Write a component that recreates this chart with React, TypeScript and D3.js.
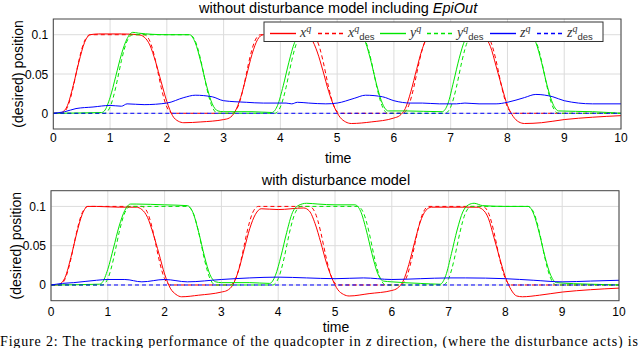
import React from 'react'
import { scaleLinear, line, curveMonotoneX } from 'd3'

type Pt = [number, number]

const xTicks = [0, 1, 2, 3, 4, 5, 6, 7, 8, 9, 10]
const yTicks = [0, 0.05, 0.1]
const yTickLabels = ['0', '0.05', '0.1']

// desired trajectories (same in both panels)
const xDes: Pt[] = [
    [0, 0], [0.15, 0], [0.25, 0.008], [0.35, 0.033], [0.4, 0.05], [0.45, 0.067], [0.55, 0.092], [0.65, 0.1],
    [1.6, 0.1], [1.7, 0.092], [1.8, 0.067], [1.85, 0.05], [1.9, 0.033], [2.0, 0.008], [2.1, 0],
    [3.15, 0], [3.25, 0.008], [3.35, 0.033], [3.4, 0.05], [3.45, 0.067], [3.55, 0.092], [3.65, 0.1],
    [4.55, 0.1], [4.65, 0.092], [4.75, 0.067], [4.8, 0.05], [4.85, 0.033], [4.95, 0.008], [5.05, 0],
    [6.15, 0], [6.25, 0.008], [6.35, 0.033], [6.4, 0.05], [6.45, 0.067], [6.55, 0.092], [6.65, 0.1],
    [7.6, 0.1], [7.7, 0.092], [7.8, 0.067], [7.85, 0.05], [7.9, 0.033], [8.0, 0.008], [8.1, 0],
    [10, 0],
]
const yDes: Pt[] = [
    [0, 0], [0.9, 0], [1.0, 0.008], [1.1, 0.033], [1.15, 0.05], [1.2, 0.067], [1.3, 0.092], [1.4, 0.1],
    [2.4, 0.1], [2.5, 0.092], [2.6, 0.067], [2.65, 0.05], [2.7, 0.033], [2.8, 0.008], [2.9, 0],
    [3.9, 0], [4.0, 0.008], [4.1, 0.033], [4.15, 0.05], [4.2, 0.067], [4.3, 0.092], [4.4, 0.1],
    [5.4, 0.1], [5.5, 0.092], [5.6, 0.067], [5.65, 0.05], [5.7, 0.033], [5.8, 0.008], [5.9, 0],
    [6.9, 0], [7.0, 0.008], [7.1, 0.033], [7.15, 0.05], [7.2, 0.067], [7.3, 0.092], [7.4, 0.1],
    [8.4, 0.1], [8.5, 0.092], [8.6, 0.067], [8.65, 0.05], [8.7, 0.033], [8.8, 0.008], [8.9, 0],
    [10, 0],
]
const zDes: Pt[] = [[0, 0], [10, 0]]

// top panel: without disturbance model
const xTop: Pt[] = [
    [0, 0], [0.1, 0], [0.15, 0.001], [0.25, 0.01], [0.35, 0.035], [0.45, 0.065], [0.55, 0.09], [0.65, 0.1],
    [0.8, 0.101], [1.2, 0.101], [1.5, 0.1], [1.6, 0.097], [1.7, 0.087], [1.8, 0.066], [1.9, 0.04], [2.0, 0.015],
    [2.1, -0.003], [2.2, -0.01], [2.3, -0.012], [2.6, -0.011], [3.0, -0.008], [3.1, -0.006], [3.2, 0.002],
    [3.3, 0.02], [3.4, 0.047], [3.5, 0.075], [3.6, 0.094], [3.7, 0.1], [4.0, 0.1], [4.45, 0.099], [4.55, 0.094],
    [4.65, 0.078], [4.75, 0.054], [4.85, 0.028], [4.95, 0.008], [5.05, -0.005], [5.15, -0.011], [5.25, -0.013],
    [5.6, -0.011], [6.0, -0.006], [6.1, -0.003], [6.2, 0.006], [6.3, 0.028], [6.4, 0.056], [6.5, 0.082],
    [6.6, 0.097], [6.7, 0.1], [7.0, 0.1], [7.5, 0.1], [7.6, 0.097], [7.7, 0.085], [7.8, 0.06], [7.9, 0.034],
    [8.0, 0.01], [8.1, -0.004], [8.2, -0.011], [8.3, -0.013], [8.6, -0.012], [9.0, -0.008], [9.5, -0.005], [10, -0.003],
]
const yTop: Pt[] = [
    [0, 0], [0.85, 0.001], [0.9, 0.003], [1.0, 0.02], [1.1, 0.047], [1.2, 0.075], [1.3, 0.095], [1.4, 0.103],
    [1.5, 0.102], [2.0, 0.1], [2.4, 0.1], [2.5, 0.09], [2.6, 0.065], [2.7, 0.035], [2.8, 0.012], [2.9, 0.003],
    [3.0, 0.002], [3.5, 0.002], [3.85, 0.001], [3.95, 0.01], [4.05, 0.035], [4.15, 0.065], [4.25, 0.09],
    [4.35, 0.1], [4.45, 0.102], [4.6, 0.101], [5.0, 0.1], [5.4, 0.1], [5.5, 0.09], [5.6, 0.065], [5.7, 0.035],
    [5.8, 0.012], [5.9, 0.003], [6.2, 0.003], [6.85, 0.002], [6.95, 0.012], [7.05, 0.04], [7.15, 0.07],
    [7.25, 0.093], [7.35, 0.101], [7.5, 0.102], [8.0, 0.1], [8.4, 0.1], [8.5, 0.09], [8.6, 0.065], [8.7, 0.035],
    [8.8, 0.012], [8.9, 0.003], [9.5, 0.002], [10, 0.0],
]
const zTop: Pt[] = [
    [0, 0], [0.2, 0.002], [0.4, 0.006], [0.7, 0.008], [1.0, 0.01], [1.2, 0.009], [1.3, 0.012], [1.6, 0.011],
    [2.0, 0.013], [2.3, 0.02], [2.5, 0.023], [2.8, 0.021], [3.0, 0.016], [3.4, 0.014], [3.7, 0.013],
    [4.1, 0.013], [4.2, 0.012], [4.3, 0.014], [4.5, 0.013], [4.8, 0.012], [5.0, 0.013], [5.3, 0.019],
    [5.5, 0.023], [5.8, 0.021], [6.0, 0.016], [6.3, 0.013], [6.5, 0.013], [6.8, 0.012], [7.1, 0.012],
    [7.25, 0.013], [7.5, 0.012], [7.8, 0.012], [8.0, 0.014], [8.3, 0.02], [8.5, 0.024], [8.8, 0.021],
    [9.0, 0.016], [9.5, 0.012], [10, 0.012],
]

// bottom panel: with disturbance model
const xBot: Pt[] = [
    [0, 0], [0.1, 0], [0.15, 0.001], [0.25, 0.01], [0.35, 0.035], [0.45, 0.065], [0.55, 0.09], [0.65, 0.1],
    [0.8, 0.1], [1.2, 0.099], [1.5, 0.099], [1.6, 0.096], [1.7, 0.086], [1.8, 0.065], [1.9, 0.04], [2.0, 0.014],
    [2.1, -0.004], [2.2, -0.012], [2.3, -0.015], [2.6, -0.013], [3.0, -0.009], [3.1, -0.007], [3.2, 0.0],
    [3.3, 0.018], [3.4, 0.045], [3.5, 0.072], [3.6, 0.09], [3.7, 0.097], [4.0, 0.096], [4.45, 0.098],
    [4.55, 0.094], [4.65, 0.078], [4.75, 0.054], [4.85, 0.028], [4.95, 0.008], [5.05, -0.006], [5.15, -0.012],
    [5.25, -0.014], [5.6, -0.011], [6.0, -0.007], [6.1, -0.004], [6.2, 0.005], [6.3, 0.026], [6.4, 0.054],
    [6.5, 0.08], [6.6, 0.095], [6.7, 0.099], [7.0, 0.099], [7.5, 0.099], [7.6, 0.096], [7.7, 0.085],
    [7.8, 0.06], [7.9, 0.034], [8.0, 0.01], [8.1, -0.006], [8.2, -0.014], [8.3, -0.015], [8.6, -0.013],
    [9.0, -0.009], [9.5, -0.006], [10, -0.004],
]
const yBot: Pt[] = [
    [0, 0], [0.85, 0.001], [0.9, 0.003], [1.0, 0.02], [1.1, 0.047], [1.2, 0.075], [1.3, 0.095], [1.4, 0.103],
    [1.5, 0.103], [2.0, 0.102], [2.4, 0.101], [2.5, 0.092], [2.6, 0.067], [2.7, 0.037], [2.8, 0.013],
    [2.9, 0.004], [3.0, 0.003], [3.5, 0.003], [3.85, 0.002], [3.95, 0.012], [4.05, 0.037], [4.15, 0.067],
    [4.25, 0.092], [4.35, 0.101], [4.5, 0.104], [4.7, 0.103], [5.0, 0.102], [5.35, 0.102], [5.45, 0.094],
    [5.55, 0.07], [5.65, 0.04], [5.75, 0.015], [5.85, 0.005], [6.0, 0.004], [6.5, 0.002], [6.85, 0.001],
    [6.95, 0.012], [7.05, 0.04], [7.15, 0.07], [7.25, 0.093], [7.35, 0.102], [7.45, 0.104], [7.6, 0.101],
    [8.0, 0.1], [8.4, 0.1], [8.5, 0.09], [8.6, 0.065], [8.7, 0.035], [8.8, 0.012], [8.9, 0.003], [9.5, 0.001],
    [10, 0.0],
]
const zBot: Pt[] = [
    [0, 0], [0.2, 0.002], [0.4, 0.003], [0.8, 0.006], [1.0, 0.007], [1.3, 0.007], [1.6, 0.004], [2.0, 0.007],
    [2.4, 0.004], [3.0, 0.007], [3.5, 0.009], [4.0, 0.01], [4.5, 0.009], [5.0, 0.008], [5.5, 0.009],
    [6.0, 0.007], [6.5, 0.008], [7.0, 0.009], [7.3, 0.009], [8.0, 0.008], [8.5, 0.006], [9.0, 0.004],
    [9.5, 0.005], [10, 0.006],
]

const red = '#ff0000'
const green = '#00e600'
const blue = '#0000ff'
const sans = '"Liberation Sans", Arial, sans-serif'
const serif = '"Liberation Serif", "Times New Roman", serif'

const Panel = ({ title, left, right, top, bottom, data, tickY, timeY }: any) => {
    const x = scaleLinear().domain([0, 10]).range([left, right])
    const y = scaleLinear().domain([-0.02, 0.12]).range([bottom, top])
    const path = line<Pt>().x(d => x(d[0])).y(d => y(d[1])).curve(curveMonotoneX)
    const series = [
        { d: data.xAct, c: red, dash: null },
        { d: xDes, c: red, dash: '4,3' },
        { d: data.yAct, c: green, dash: null },
        { d: yDes, c: green, dash: '4,3' },
        { d: data.zAct, c: blue, dash: null },
        { d: zDes, c: blue, dash: '4,3' },
    ]
    const midX = (left + right) / 2
    return (
        <g>
            <text x={midX + 1} y={top - 6} textAnchor="middle" fontFamily={sans} fontSize={14.5}>{title}</text>
            {xTicks.map(t => (
                <line key={'gx' + t} x1={x(t)} x2={x(t)} y1={top} y2={bottom} stroke="#dcdcdc" strokeWidth={1} />
            ))}
            {yTicks.map(t => (
                <line key={'gy' + t} x1={left} x2={right} y1={y(t)} y2={y(t)} stroke="#dcdcdc" strokeWidth={1} />
            ))}
            {series.map((s, i) => (
                <path key={i} d={path(s.d) || ''} fill="none" stroke={s.c} strokeWidth={1}
                    strokeDasharray={s.dash || undefined} />
            ))}
            <rect x={left} y={top} width={right - left} height={bottom - top} fill="none" stroke="#444" strokeWidth={1} />
            {xTicks.map(t => (
                <text key={'tx' + t} x={x(t)} y={tickY} textAnchor="middle" fontFamily={sans} fontSize={12}>{t}</text>
            ))}
            {yTicks.map((t, i) => (
                <text key={'ty' + t} x={left - 5} y={y(t) + 4.5} textAnchor="end" fontFamily={sans} fontSize={12}>{yTickLabels[i]}</text>
            ))}
            <text x={midX + 1} y={timeY} textAnchor="middle" fontFamily={sans} fontSize={14}>time</text>
            <text transform={`translate(${left - 30},${(top + bottom) / 2}) rotate(-90)`} textAnchor="middle"
                fontFamily={sans} fontSize={14}>(desired) position</text>
        </g>
    )
}

const legendItems = [
    { c: red, dash: '', v: 'x', des: false },
    { c: red, dash: '4,3', v: 'x', des: true },
    { c: green, dash: '', v: 'y', des: false },
    { c: green, dash: '4,3', v: 'y', des: true },
    { c: blue, dash: '', v: 'z', des: false },
    { c: blue, dash: '4,3', v: 'z', des: true },
]
const legendStarts = [270, 318, 380, 427, 490, 537]

const Legend = () => (
    <g>
        <rect x={264} y={22} width={339} height={19.5} fill="white" stroke="#333" strokeWidth={1} />
        {legendItems.map((it, i) => (
            <g key={i}>
                <path d={`M${legendStarts[i]},33.5H${legendStarts[i] + 26}`}
                    style={{ stroke: it.c, strokeWidth: 1.4, fill: 'none', strokeDasharray: it.dash || 'none' }} />
                <text x={legendStarts[i] + 30} y={36.5} fontFamily={serif} fontSize={14} fill="#333">
                    <tspan fontStyle="italic">{it.v}</tspan>
                    <tspan fontStyle="italic" fontSize={10} dy={-5}>q</tspan>
                    {it.des && <tspan fontFamily={sans} fontSize={9.5} dy={8}>des</tspan>}
                </text>
            </g>
        ))}
    </g>
)

export default function App() {
    return (
        <svg width={640} height={348} style={{ display: 'block', position: 'absolute', left: 0, top: 0 }}>
            <rect width={640} height={348} fill="white" />
            <Panel title={<><tspan>without disturbance model including </tspan><tspan fontStyle="italic">EpiOut</tspan></>}
                left={53.3} right={621} top={19} bottom={129} tickY={142} timeY={163}
                data={{ xAct: xTop, yAct: yTop, zAct: zTop }} />
            <Legend />
            <Panel title="with disturbance model"
                left={51} right={619} top={190.7} bottom={300.7} tickY={315.5} timeY={331.5}
                data={{ xAct: xBot, yAct: yBot, zAct: zBot }} />
            <text x={0} y={346} fontFamily={serif} fontSize={14} textLength={638} lengthAdjust="spacing">
                Figure 2: The tracking performance of the quadcopter in <tspan fontStyle="italic">z</tspan> direction, (where the disturbance acts) is
            </text>
        </svg>
    )
}
